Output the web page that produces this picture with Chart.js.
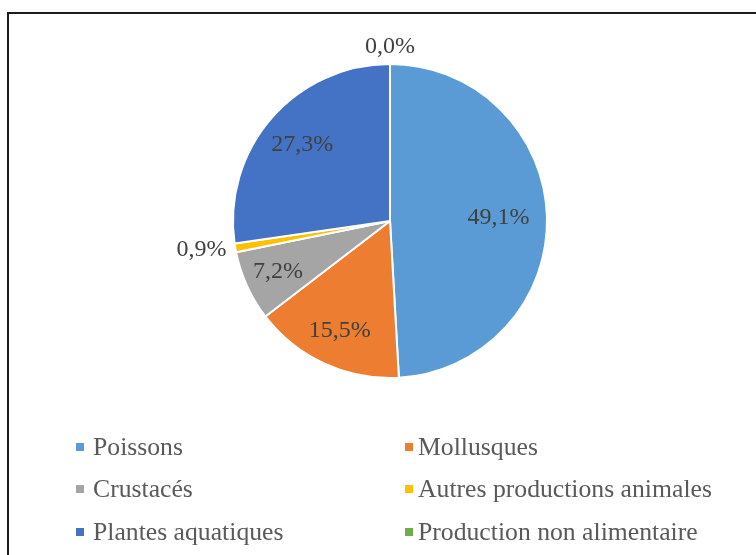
<!DOCTYPE html>
<html>
<head>
<meta charset="utf-8">
<script src="https://cdn.jsdelivr.net/npm/chart.js@4/dist/chart.umd.min.js"></script>
<style>
  html, body { margin: 0; padding: 0; background: #fff; overflow: hidden; }
  #wrap { position: relative; width: 756px; height: 555px; }
  #frame { position: absolute; left: 7px; top: 12px; width: 800px; height: 600px; border: 2px solid #1c1c1c; }
  #chartCanvas { position: absolute; left: 0; top: 0; }
  .leg { position: absolute; font-family: "Liberation Serif", "Times New Roman", "DejaVu Serif", serif; font-size: 25.7px; color: #595959; line-height: 30px; white-space: nowrap; }
  .leg i { position: absolute; width: 8px; height: 8px; top: 11px; }
</style>
</head>
<body>
<div id="wrap">
  <div id="frame"></div>
  <canvas id="chartCanvas" width="756" height="555"></canvas>
  <div id="legend"></div>
</div>
<script>
// Daten
const categories = ['Poissons', 'Mollusques', 'Crustacés', 'Autres productions animales', 'Plantes aquatiques', 'Production non alimentaire'];
const shares = [49.1, 15.5, 7.2, 0.9, 27.3, 0.0];
const colors = ['#5B9BD5', '#ED7D31', '#A5A5A5', '#FFC000', '#4472C4', '#70AD47'];

const fmt = v => v.toFixed(1).replace('.', ',') + '%';

// Beschriftungen der Segmente (innen / außen bei kleinen Anteilen)
const sliceLabels = {
  id: 'sliceLabels',
  afterDatasetsDraw(chart) {
    const ctx = chart.ctx;
    const meta = chart.getDatasetMeta(0);
    const total = shares.reduce((a, b) => a + b, 0);
    ctx.save();
    ctx.font = '24px "Liberation Serif", "Times New Roman", serif';
    ctx.fillStyle = '#404040';
    meta.data.forEach((arc, i) => {
      const mid = (arc.startAngle + arc.endAngle) / 2;
      const dx = Math.cos(mid), dy = Math.sin(mid);
      const R = arc.outerRadius;
      const frac = shares[i] / total;
      if (frac >= 0.03) {
        const f = 0.8 - 0.22 * frac;
        ctx.textAlign = 'center';
        ctx.textBaseline = 'middle';
        ctx.fillText(fmt(shares[i]), arc.x + dx * R * f, arc.y + dy * R * f);
      } else {
        ctx.textAlign = dx < -0.3 ? 'right' : (dx > 0.3 ? 'left' : 'center');
        ctx.textBaseline = dy < -0.3 ? 'bottom' : (dy > 0.3 ? 'top' : 'middle');
        const off = R + 9;
        ctx.fillText(fmt(shares[i]), arc.x + dx * off, arc.y + dy * off + (ctx.textBaseline === 'bottom' ? 4 : 0));
      }
    });
    ctx.restore();
  }
};

const ctx = document.getElementById('chartCanvas').getContext('2d');
const chart = new Chart(ctx, {
  type: 'pie',
  data: {
    labels: categories,
    datasets: [{
      data: shares,
      backgroundColor: colors,
      borderColor: '#ffffff',
      borderWidth: 2
    }]
  },
  options: {
    responsive: false,
    animation: false,
    layout: { padding: { top: 63, bottom: 176, left: 24, right: 0 } },
    plugins: {
      legend: { display: false },
      tooltip: { enabled: false }
    }
  },
  plugins: [sliceLabels]
});

// Legende (2 Spalten)
const legend = document.getElementById('legend');
const colX = [93, 418];
const rowY = [432, 474, 517];
categories.forEach((name, i) => {
  const col = i % 2, row = Math.floor(i / 2);
  const el = document.createElement('div');
  el.className = 'leg';
  el.style.left = colX[col] + 'px';
  el.style.top = rowY[row] + 'px';
  el.textContent = name;
  const box = document.createElement('i');
  box.style.background = colors[i];
  box.style.left = (col === 0 ? -17 : -13) + 'px';
  el.appendChild(box);
  legend.appendChild(el);
});
</script>
</body>
</html>
